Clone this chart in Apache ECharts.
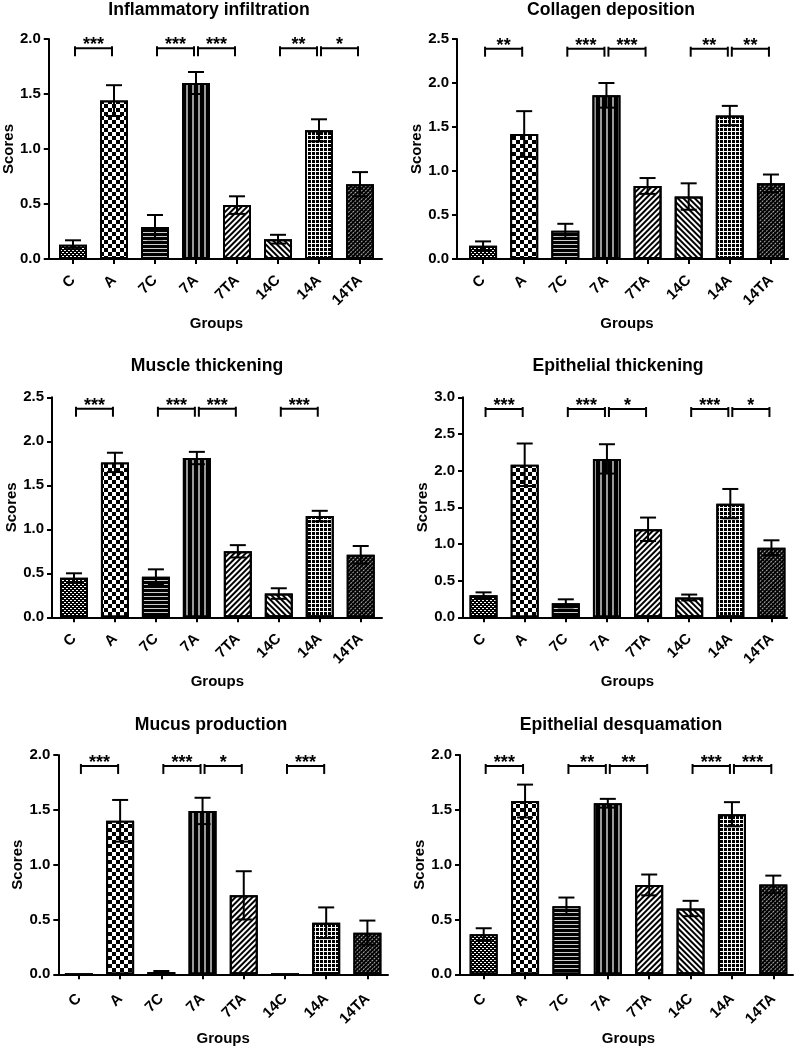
<!DOCTYPE html>
<html><head><meta charset="utf-8">
<script src="https://cdn.jsdelivr.net/npm/echarts@6/dist/echarts.min.js"></script>
<style>html,body{margin:0;padding:0;background:#fff}#c{width:795px;height:1048px}</style>
</head><body><div id="c"></div>
<script>
// ---------- DATA ----------
const categories = ['C', 'A', '7C', '7A', '7TA', '14C', '14A', '14TA'];
const panelTitles = ['Inflammatory infiltration', 'Collagen deposition', 'Muscle thickening',
  'Epithelial thickening', 'Mucus production', 'Epithelial desquamation'];
const yTitle = 'Scores';
const xTitle = 'Groups';

const inflammMean = [0.13, 1.44, 0.29, 1.60, 0.49, 0.18, 1.17, 0.68];
const inflammSem  = [0.04, 0.14, 0.11, 0.10, 0.08, 0.04, 0.10, 0.11];
const collagenMean = [0.15, 1.42, 0.32, 1.86, 0.83, 0.71, 1.63, 0.86];
const collagenSem  = [0.05, 0.26, 0.08, 0.14, 0.09, 0.15, 0.11, 0.10];
const muscleMean = [0.45, 1.76, 0.46, 1.81, 0.75, 0.27, 1.15, 0.71];
const muscleSem  = [0.05, 0.11, 0.085, 0.07, 0.07, 0.06, 0.06, 0.10];
const epiThickMean = [0.30, 2.08, 0.19, 2.16, 1.20, 0.27, 1.55, 0.95];
const epiThickSem  = [0.04, 0.29, 0.055, 0.20, 0.16, 0.04, 0.20, 0.10];
const mucusMean = [0, 1.40, 0.02, 1.49, 0.72, 0, 0.47, 0.38];
const mucusSem  = [0, 0.19, 0.01, 0.12, 0.22, 0, 0.14, 0.11];
const desqMean = [0.365, 1.58, 0.62, 1.56, 0.815, 0.60, 1.46, 0.82];
const desqSem  = [0.055, 0.15, 0.08, 0.04, 0.095, 0.07, 0.11, 0.08];

const yMaxes = [2.0, 2.5, 2.5, 3.0, 2.0, 2.0];
const yInterval = 0.5;

// significance brackets: [fromIndex, toIndex, stars]
const bracketLevels = [1.915, 2.39, 2.37, 2.84, 1.90, 1.90];
const inflammBrackets = [[0, 1, '***'], [2, 3, '***'], [3, 4, '***'], [5, 6, '**'], [6, 7, '*']];
const collagenBrackets = [[0, 1, '**'], [2, 3, '***'], [3, 4, '***'], [5, 6, '**'], [6, 7, '**']];
const muscleBrackets = [[0, 1, '***'], [2, 3, '***'], [3, 4, '***'], [5, 6, '***']];
const epiThickBrackets = [[0, 1, '***'], [2, 3, '***'], [3, 4, '*'], [5, 6, '***'], [6, 7, '*']];
const mucusBrackets = [[0, 1, '***'], [2, 3, '***'], [3, 4, '*'], [5, 6, '***']];
const desqBrackets = [[0, 1, '***'], [2, 3, '**'], [3, 4, '**'], [5, 6, '***'], [6, 7, '***']];

const means = [inflammMean, collagenMean, muscleMean, epiThickMean, mucusMean, desqMean];
const sems = [inflammSem, collagenSem, muscleSem, epiThickSem, mucusSem, desqSem];
const brackets = [inflammBrackets, collagenBrackets, muscleBrackets, epiThickBrackets, mucusBrackets, desqBrackets];

// ---------- LAYOUT / STYLE ----------
const W = 795, H = 1048;
const FONT = "Arial, 'Liberation Sans', Helvetica, sans-serif";
const layout = [
  {fl: 45,  fr: 382, top: 39,    bot: 259,   bl: 52.5, br: 380.5, tx: 209, ty: 1,   lm: 19},
  {fl: 457, fr: 788, top: 39,    bot: 259,   bl: 462.5, br: 791.5, tx: 611, ty: 1,  lm: 19},
  {fl: 52,  fr: 382, top: 397.3, bot: 617.3, bl: 53.5, br: 381.2, tx: 207, ty: 357, lm: 19},
  {fl: 463, fr: 787, top: 397.3, bot: 617.3, bl: 463,  br: 792,   tx: 618, ty: 357, lm: 19},
  {fl: 58.3, fr: 388, top: 755,  bot: 974.3, bl: 58.3, br: 388,   tx: 211, ty: 716, lm: 22},
  {fl: 460, fr: 793, top: 755,   bot: 974.3, bl: 463,  br: 794,   tx: 621, ty: 716, lm: 22}
];

const barStyles = [
  {color: '#000', decal: {symbol: 'rect', symbolSize: 1, color: '#fff', dashArrayX: [[2, 2], [0, 2, 2, 0]], dashArrayY: [1, 1]}},
  {color: '#000', decal: {symbol: 'rect', symbolSize: 1, color: '#fff', dashArrayX: [[4, 4], [0, 4, 4, 0]], dashArrayY: [4, 0]}},
  {color: '#000', decal: {symbol: 'rect', symbolSize: 1, color: '#ccc', dashArrayX: [1, 0], dashArrayY: [1, 3]}},
  {color: '#000', decal: {symbol: 'rect', symbolSize: 1, color: '#999', dashArrayX: [2, 4], dashArrayY: [1, 0]}},
  {color: '#fff', decal: {symbol: 'rect', symbolSize: 1, color: '#000', dashArrayX: [1, 0], dashArrayY: [2, 2], rotation: -Math.PI / 4}},
  {color: '#fff', decal: {symbol: 'rect', symbolSize: 1, color: '#000', dashArrayX: [1, 0], dashArrayY: [2, 2], rotation: Math.PI / 4}},
  {color: '#fff', decal: {symbol: 'rect', symbolSize: 1, color: '#000', dashArrayX: [3, 1], dashArrayY: [3, 1]}},
  {color: '#000', decal: {symbol: 'rect', symbolSize: 1, color: '#aaa', dashArrayX: [2, 1], dashArrayY: [1, 2], rotation: -Math.PI / 4}}
];

const grids = [], xAxes = [], yAxes = [], series = [], graphics = [];

layout.forEach((L, p) => {
  const gF = grids.length;
  grids.push({left: L.fl, right: W - L.fr, top: L.top, height: L.bot - L.top, containLabel: false});
  const gB = grids.length;
  grids.push({left: L.bl, right: W - L.br, top: L.top, height: L.bot - L.top, containLabel: false});

  xAxes.push({type: 'value', gridIndex: gF, min: 0, max: 1,
    axisLine: {show: true, lineStyle: {color: '#000', width: 2}},
    axisTick: {show: false}, axisLabel: {show: false}, splitLine: {show: false}});
  yAxes.push({type: 'value', gridIndex: gF, min: 0, max: yMaxes[p], interval: yInterval,
    axisLine: {show: true, lineStyle: {color: '#000', width: 2}},
    axisTick: {show: true, length: 5, lineStyle: {color: '#000', width: 2}},
    axisLabel: {color: '#000', fontFamily: FONT, fontWeight: 'bold', fontSize: 15, margin: 8,
      formatter: v => v.toFixed(1)},
    splitLine: {show: false},
    name: yTitle, nameLocation: 'middle', nameGap: 31,
    nameTextStyle: {color: '#000', fontFamily: FONT, fontWeight: 'bold', fontSize: 15}});
  const xF = xAxes.length - 1, yF = yAxes.length - 1;

  xAxes.push({type: 'category', gridIndex: gB, data: categories,
    axisLine: {show: false},
    axisTick: {show: true, alignWithLabel: true, length: 5, lineStyle: {color: '#000', width: 2}},
    axisLabel: {color: '#000', fontFamily: FONT, fontWeight: 'bold', fontSize: 15, rotate: 45,
      margin: L.lm, interval: 0},
    name: xTitle, nameLocation: 'middle', nameGap: 57,
    nameTextStyle: {color: '#000', fontFamily: FONT, fontWeight: 'bold', fontSize: 15}});
  yAxes.push({type: 'value', gridIndex: gB, min: 0, max: yMaxes[p], interval: yInterval, show: false});
  const xB = xAxes.length - 1, yB = yAxes.length - 1;

  series.push({type: 'line', xAxisIndex: xF, yAxisIndex: yF, data: [], silent: true});

  series.push({
    type: 'bar', xAxisIndex: xB, yAxisIndex: yB, barWidth: 28,
    data: means[p].map((v, i) => ({value: v, itemStyle: Object.assign({borderColor: '#000', borderWidth: 2}, barStyles[i])})),
    z: 2
  });

  const errData = means[p].map((m, i) => [i, m - sems[p][i], m + sems[p][i]]);
  series.push({
    type: 'custom', xAxisIndex: xB, yAxisIndex: yB, z: 3,
    data: errData, encode: {x: 0, y: [1, 2]},
    renderItem: (params, api) => {
      const x = api.value(0), lo = api.value(1), hi = api.value(2);
      if (hi === lo) return null;
      const t = api.coord([x, hi]), b = api.coord([x, lo]);
      const hw = 8, st = {stroke: '#000', lineWidth: 2};
      return {type: 'group', children: [
        {type: 'line', shape: {x1: t[0], y1: t[1], x2: b[0], y2: b[1]}, style: st},
        {type: 'line', shape: {x1: t[0] - hw, y1: t[1], x2: t[0] + hw, y2: t[1]}, style: st},
        {type: 'line', shape: {x1: b[0] - hw, y1: b[1], x2: b[0] + hw, y2: b[1]}, style: st}
      ]};
    }
  });

  const bl = brackets[p];
  const level = bracketLevels[p];
  series.push({
    type: 'custom', xAxisIndex: xB, yAxisIndex: yB, z: 4,
    data: bl.map(b => [b[0], b[1], level]), encode: {x: [0, 1], y: 2},
    renderItem: (params, api) => {
      const b = bl[params.dataIndex];
      const p1 = api.coord([api.value(0), api.value(2)]);
      const p2 = api.coord([api.value(1), api.value(2)]);
      const x1 = p1[0] + 2, x2 = p2[0] - 2, y = p1[1];
      const st = {stroke: '#000', lineWidth: 2};
      return {type: 'group', children: [
        {type: 'line', shape: {x1: x1, y1: y, x2: x2, y2: y}, style: st},
        {type: 'line', shape: {x1: x1, y1: y - 2, x2: x1, y2: y + 8}, style: st},
        {type: 'line', shape: {x1: x2, y1: y - 2, x2: x2, y2: y + 8}, style: st},
        {type: 'text', x: (x1 + x2) / 2, y: y - 3, style: {text: b[2], fill: '#000',
          font: 'bold 18px ' + FONT, textAlign: 'center', textVerticalAlign: 'middle'}}
      ]};
    }
  });

  graphics.push({type: 'text', x: L.tx, y: L.ty, style: {text: panelTitles[p], fill: '#000',
    font: 'bold 17.6px ' + FONT, textAlign: 'center', textVerticalAlign: 'top'}});
});

const chart = echarts.init(document.getElementById('c'), null, {renderer: 'canvas'});
chart.setOption({
  animation: false,
  backgroundColor: '#fff',
  grid: grids, xAxis: xAxes, yAxis: yAxes, series: series,
  graphic: graphics
});
</script>
</body></html>
